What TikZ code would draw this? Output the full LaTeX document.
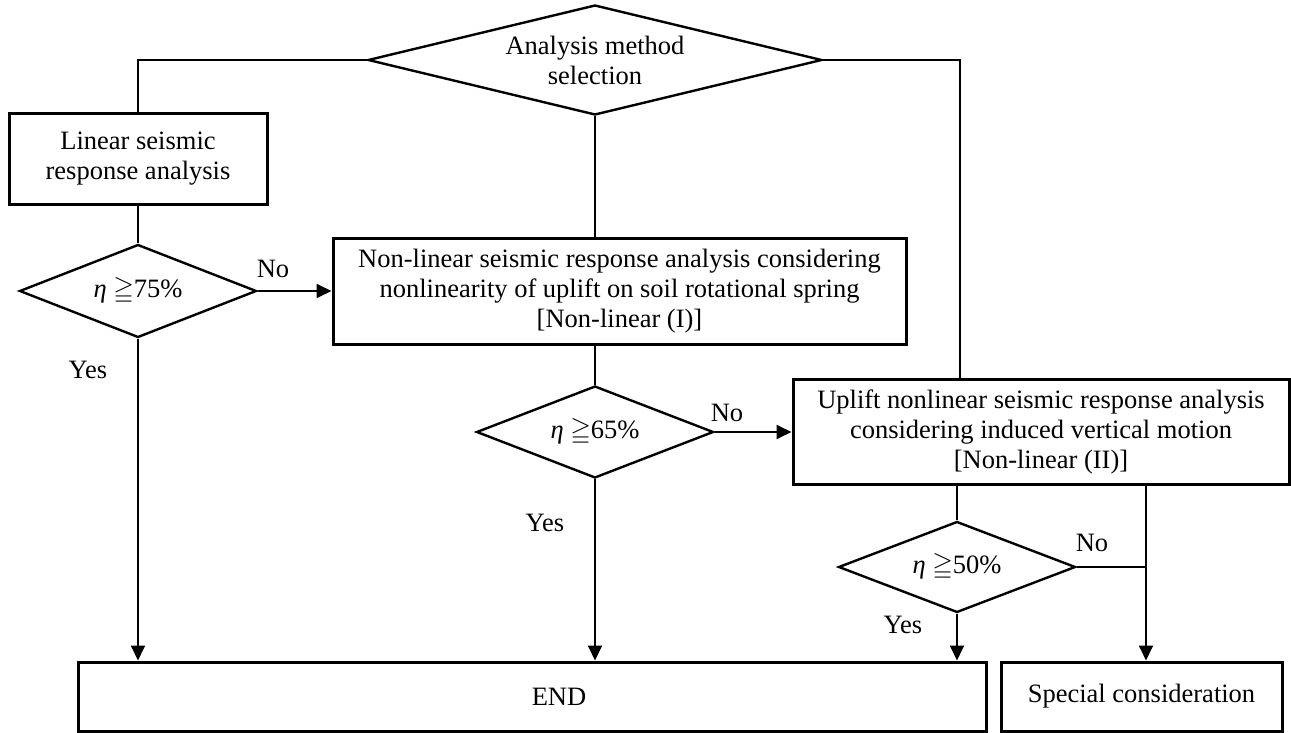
\documentclass[tikz,border=0pt]{standalone}
\usepackage{amsmath,amssymb}
\usepackage{fontspec}
\setmainfont{Liberation Serif}
\usetikzlibrary{shapes.geometric,arrows.meta}

\begin{document}
\begin{tikzpicture}[x=1pt,y=-1pt,font=\fontsize{26.5}{30}\selectfont]
        \tikzstyle{arrow} = [line width=1.8pt,-{Triangle[length=15pt,width=14pt]}]
        \tikzstyle{line} = [line width=1.8pt]
        \tikzstyle{box} = [draw,rectangle,line width=3pt,inner sep=0pt,align=center]
        \tikzstyle{decision} = [draw,diamond,line width=2.4pt,inner sep=0pt,align=center]
        \tikzstyle{lbl} = [inner sep=0pt]

        \useasboundingbox (0,0) rectangle (1291,733);

        % boxes and decisions
        \node[decision,aspect=4,minimum width=454pt,minimum height=110pt] (select) at (595,60) {Analysis method\\selection};
        \node[box,minimum width=258pt,minimum height=90pt] (linear) at (138,159) {Linear seismic\\response analysis};
        \node[decision,aspect=2.5,minimum width=237pt,minimum height=93pt] (check1) at (138,291) {\textit{η} $\geqq$75\%};
        \node[box,minimum width=573pt,minimum height=106pt] (nonlin1) at (619.5,291) {Non-linear seismic response analysis considering\\nonlinearity of uplift on soil rotational spring\\{[}Non-linear (I){]}};
        \node[decision,aspect=2.5,minimum width=237pt,minimum height=92pt] (check2) at (595,432) {\textit{η} $\geqq$65\%};
        \node[box,minimum width=496pt,minimum height=105pt] (nonlin2) at (1041,431.5) {Uplift nonlinear seismic response analysis\\considering induced vertical motion\\{[}Non-linear (II){]}};
        \node[decision,aspect=2.5,minimum width=237pt,minimum height=91pt] (check3) at (957,567) {\textit{η} $\geqq$50\%};
        \node[box,minimum width=908pt,minimum height=69pt] (end) at (532,696.5) {};
        \node[lbl] (endlabel) at (559,697) {END};
        \node[box,minimum width=281pt,minimum height=69pt] (special) at (1141.5,696.5) {Special consideration};

        % branch labels
        \node[lbl] (no1) at (273,269) {No};
        \node[lbl] (yes1) at (88,370) {Yes};
        \node[lbl] (no2) at (727,413) {No};
        \node[lbl] (yes2) at (545,523) {Yes};
        \node[lbl] (no3) at (1092,543) {No};
        \node[lbl] (yes3) at (903,625) {Yes};

        % connectors
        \coordinate (join) at (1146,567);
        \draw [line] (select.west) -| (linear.north);
        \draw [line] (select.east) -| ([xshift=-81pt]nonlin2.north);
        \draw [line] (select.south) -- (select.south |- nonlin1.north);
        \draw [line] (linear.south) -- (check1.north);
        \draw [arrow] (check1.east) -- (nonlin1.west);
        \draw [arrow] (check1.south) -- (check1.south |- end.north);
        \draw [line] (nonlin1.south -| check2.north) -- (check2.north);
        \draw [arrow] (check2.east) -- (check2.east -| nonlin2.west);
        \draw [arrow] (check2.south) -- (check2.south |- end.north);
        \draw [line] (nonlin2.south -| check3.north) -- (check3.north);
        \draw [arrow] (check3.south) -- (check3.south |- end.north);
        \draw [line] (check3.east) -- (join);
        \draw [arrow] (join |- nonlin2.south) -- (join |- special.north);
    \end{tikzpicture}
\end{document}
